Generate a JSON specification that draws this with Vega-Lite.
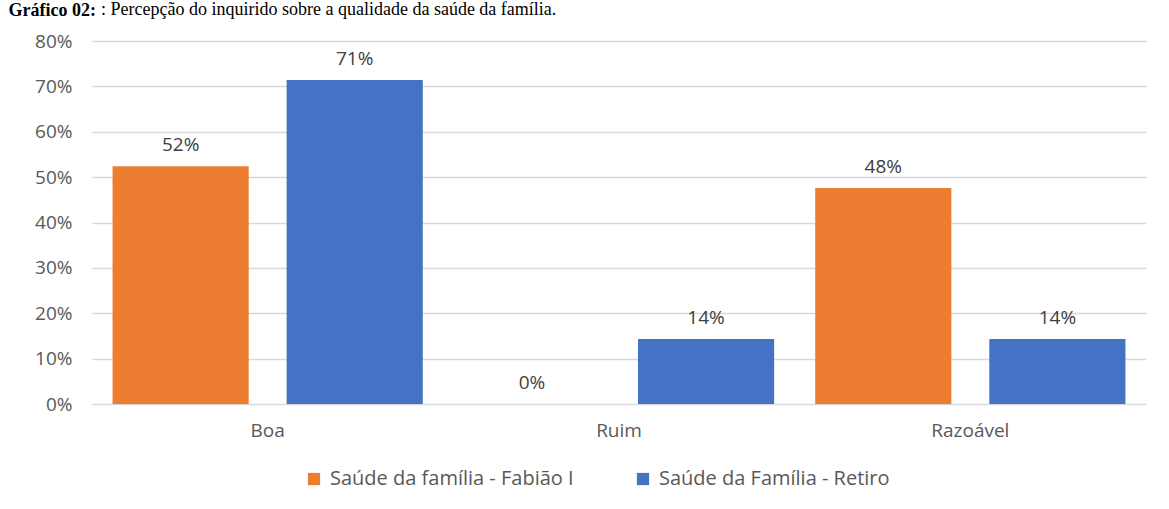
{
  "$schema": "https://vega.github.io/schema/vega-lite/v6.json",
  "autosize": {"type": "none"},
  "width": 1054,
  "height": 363,
  "padding": {"left": 92, "top": 41, "right": 23, "bottom": 105},
  "background": "white",
  "title": {
    "text": ": Percepção do inquirido sobre a qualidade da  saúde da família.",
    "anchor": "start",
    "font": "Liberation Serif",
    "fontSize": 18,
    "fontWeight": "normal",
    "color": "black",
    "baseline": "alphabetic",
    "dx": 9,
    "dy": 36,
    "frame": "group"
  },
  "data": {
    "values": [
      {"categoria": "Boa", "grupo": "Saúde da família - Fabião I", "valor": 0.524},
      {"categoria": "Boa", "grupo": "Saúde da Família - Retiro", "valor": 0.714},
      {"categoria": "Ruim", "grupo": "Saúde da família - Fabião I", "valor": 0.0},
      {"categoria": "Ruim", "grupo": "Saúde da Família - Retiro", "valor": 0.143},
      {"categoria": "Razoável", "grupo": "Saúde da família - Fabião I", "valor": 0.476},
      {"categoria": "Razoável", "grupo": "Saúde da Família - Retiro", "valor": 0.143}
    ]
  },
  "encoding": {
    "x": {
      "field": "categoria",
      "type": "nominal",
      "sort": ["Boa", "Ruim", "Razoável"],
      "scale": {"paddingInner": 0, "paddingOuter": 0},
      "axis": {
        "title": null,
        "domain": false,
        "ticks": false,
        "labelAngle": 0,
        "labelPadding": 17,
        "labelFont": "Open Sans",
        "labelFontSize": 19,
        "labelColor": "#595959"
      }
    },
    "xOffset": {
      "field": "grupo",
      "type": "nominal",
      "sort": ["Saúde da família - Fabião I", "Saúde da Família - Retiro"],
      "scale": {"paddingInner": 0.218, "paddingOuter": 0.118}
    },
    "y": {
      "field": "valor",
      "type": "quantitative",
      "scale": {"domain": [0, 0.8], "nice": false},
      "axis": {
        "title": "Gráfico 02:",
        "titleAngle": 0,
        "titleAlign": "left",
        "titleBaseline": "alphabetic",
        "titleX": -84,
        "titleY": -26,
        "titleFont": "Liberation Serif",
        "titleFontSize": 18,
        "titleFontWeight": "bold",
        "titleColor": "black",
        "values": [0, 0.1, 0.2, 0.3, 0.4, 0.5, 0.6, 0.7, 0.8],
        "format": ".0%",
        "domain": false,
        "ticks": false,
        "labelPadding": 20,
        "labelFont": "Open Sans",
        "labelFontSize": 19,
        "labelColor": "#595959",
        "gridColor": "#D9D9D9",
        "gridWidth": 1.5
      }
    },
    "color": {
      "field": "grupo",
      "type": "nominal",
      "sort": ["Saúde da família - Fabião I", "Saúde da Família - Retiro"],
      "scale": {"range": ["#ED7D31", "#4472C4"]},
      "legend": {
        "title": null,
        "orient": "none",
        "direction": "horizontal",
        "legendX": 212,
        "legendY": 428,
        "symbolType": "square",
        "symbolSize": 150,
        "symbolStrokeWidth": 0,
        "labelFont": "Open Sans",
        "labelFontSize": 20,
        "labelColor": "#595959",
        "labelLimit": 0,
        "columnPadding": 59,
        "labelOffset": 6
      }
    }
  },
  "layer": [
    {"mark": {"type": "bar", "cornerRadius": 0}},
    {
      "mark": {"type": "text", "baseline": "bottom", "dy": -11, "font": "Open Sans", "fontSize": 19, "color": "#404040"},
      "encoding": {
        "text": {"field": "valor", "type": "quantitative", "format": ".0%"},
        "color": {"value": "#404040"}
      }
    }
  ],
  "config": {
    "view": {"stroke": null}
  }
}
